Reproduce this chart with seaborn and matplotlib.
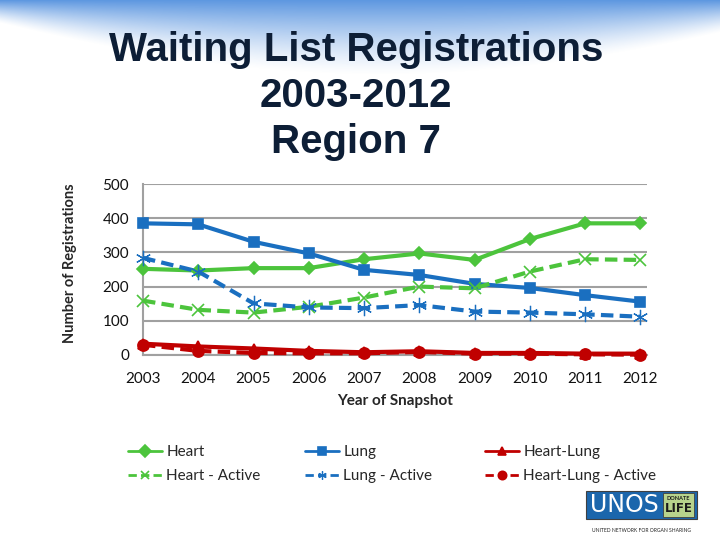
import numpy as np
import pandas as pd
import matplotlib.pyplot as plt
import seaborn as sns
from matplotlib.patches import Rectangle

# Data
years = [2003, 2004, 2005, 2006, 2007, 2008, 2009, 2010, 2011, 2012]
heart = [252, 247, 254, 254, 280, 297, 278, 339, 385, 385]
lung = [385, 382, 331, 297, 249, 234, 208, 196, 175, 156]
heart_lung = [33, 25, 19, 12, 8, 11, 6, 6, 4, 4]
heart_active = [159, 132, 124, 141, 168, 200, 195, 244, 280, 278]
lung_active = [284, 244, 151, 139, 137, 146, 127, 124, 119, 112]
heart_lung_active = [30, 12, 6, 5, 5, 9, 4, 4, 2, 1]
y_ticks = [0, 100, 200, 300, 400, 500]

GREEN = '#4CC43C'
BLUE = '#1A6FC0'
RED = '#C00000'
GRID = '#A0A0A0'

sns.set_style('white')
plt.rcParams['font.family'] = ['Lato', 'DejaVu Sans']

fig = plt.figure(figsize=(7.2, 5.4), dpi=100)

# slide background: blue swoosh at the top
bg = fig.add_axes([0, 0, 1, 1], zorder=-10)
h, w = 540, 720
yy, xx = np.mgrid[0:h, 0:w]
edge = 50 + 25 * np.cos((xx - 380) / 720 * np.pi) - 25 * ((xx - 380) / 380) ** 2
alpha = 0.9 * np.clip((edge - yy) / edge, 0, 1) ** 1.3
img = np.ones((h, w, 4))
img[..., 0] = 0.30
img[..., 1] = 0.55
img[..., 2] = 0.87
img[..., 3] = alpha
bg.imshow(img, extent=[0, 1, 0, 1], aspect='auto', origin='upper')
bg.axis('off')

ax = fig.add_axes([143 / 720, 1 - 355 / 540, 504 / 720, 171 / 540])
ax.set_facecolor('none')

df = pd.DataFrame({'year': years, 'Heart': heart, 'Lung': lung,
                   'Heart-Lung': heart_lung, 'Heart - Active': heart_active,
                   'Lung - Active': lung_active,
                   'Heart-Lung - Active': heart_lung_active})

series = [
    ('Heart', GREEN, 'D', None, 6, 1.2),
    ('Lung', BLUE, 's', None, 7, 1.2),
    ('Heart-Lung', RED, '^', None, 7, 1.2),
    ('Heart - Active', GREEN, 'x', (3, 1.5), 8, 1.2),
    ('Lung - Active', BLUE, (6, 2, 0), (3, 1.5), 11, 0.9),
    ('Heart-Lung - Active', RED, 'o', (3, 1.5), 8, 1.2),
]
handles = {}
for name, color, marker, dash, ms, mew in series:
    sns.lineplot(data=df, x='year', y=name, ax=ax, color=color, marker=marker,
                 markersize=ms, linewidth=3, markeredgecolor=color,
                 markeredgewidth=mew, label=name, legend=False, clip_on=False,
                 zorder=3)
    line = ax.lines[-1]
    if dash is not None:
        line.set_dashes(dash)
    handles[name] = line

ax.set_xlim(2003, 2012.12)
ax.set_ylim(0, 500)
ax.set_yticks(y_ticks)
ax.set_xticks(years)
ax.set_xticklabels([str(y) for y in years])
ax.grid(axis='y', color=GRID, linewidth=1.5)
ax.grid(axis='x', visible=False)
for s in ['top', 'right']:
    ax.spines[s].set_visible(False)
for s in ['left', 'bottom']:
    ax.spines[s].set_color(GRID)
    ax.spines[s].set_linewidth(1.5)
ax.tick_params(axis='both', colors=GRID, length=5, width=1.5, labelsize=11,
               labelcolor='#111111', direction='out')
ax.tick_params(axis='y', length=4, pad=6)
ax.tick_params(axis='x', pad=7)
ax.set_xlabel('Year of Snapshot', fontsize=11, fontweight='bold', labelpad=6)
ax.set_ylabel('')
fig.text(70 / 720, 1 - 263 / 540, 'Number of Registrations', rotation=90,
         ha='center', va='center', fontsize=10.5, fontweight='bold')

fig.text(356 / 720, 1 - 96 / 540, 'Waiting List Registrations\n2003-2012\nRegion 7',
         ha='center', va='center', fontsize=29, fontweight='bold',
         color='#0D1E36', linespacing=1.28,
         family=['Liberation Sans Narrow', 'Liberation Sans', 'DejaVu Sans'])

# legend in three columns
cols = [(['Heart', 'Heart - Active'], 128),
        (['Lung', 'Lung - Active'], 305),
        (['Heart-Lung', 'Heart-Lung - Active'], 485)]
for names, xpix in cols:
    leg = fig.legend([handles[n] for n in names], names, loc='upper left',
                     bbox_to_anchor=(xpix / 720, 1 - 445 / 540), frameon=False,
                     fontsize=11, handlelength=2.2, handletextpad=0.3,
                     labelspacing=0.65, borderaxespad=0, borderpad=0)
    for lh in leg.legend_handles:
        lh.set_linewidth(2)
        lh.set_markersize(6)

# UNOS logo
fig.patches.append(Rectangle((586 / 720, 1 - 519 / 540), 111 / 720, 28 / 540,
                             transform=fig.transFigure, facecolor='#1B66AC',
                             edgecolor='#404040', linewidth=0.8))
fig.patches.append(Rectangle((663 / 720, 1 - 517 / 540), 31 / 720, 24 / 540,
                             transform=fig.transFigure, facecolor='#B7D38C',
                             edgecolor='#404040', linewidth=0.6))
fig.text(624 / 720, 1 - 505 / 540, 'UNOS', color='white', fontsize=17,
         ha='center', va='center', family=['Liberation Sans Narrow', 'DejaVu Sans'])
fig.text(678.5 / 720, 1 - 499 / 540, 'DONATE', color='#1a1a1a', fontsize=4,
         ha='center', va='center', fontweight='bold')
fig.text(678.5 / 720, 1 - 509 / 540, 'LIFE', color='#1a1a1a', fontsize=8.5,
         ha='center', va='center', fontweight='bold',
         family=['Liberation Sans Narrow', 'DejaVu Sans'])
fig.text(641 / 720, 1 - 531 / 540, 'UNITED NETWORK FOR ORGAN SHARING',
         color='#222222', fontsize=3.6, ha='center', va='center')

fig.savefig('out.png', dpi=100)
